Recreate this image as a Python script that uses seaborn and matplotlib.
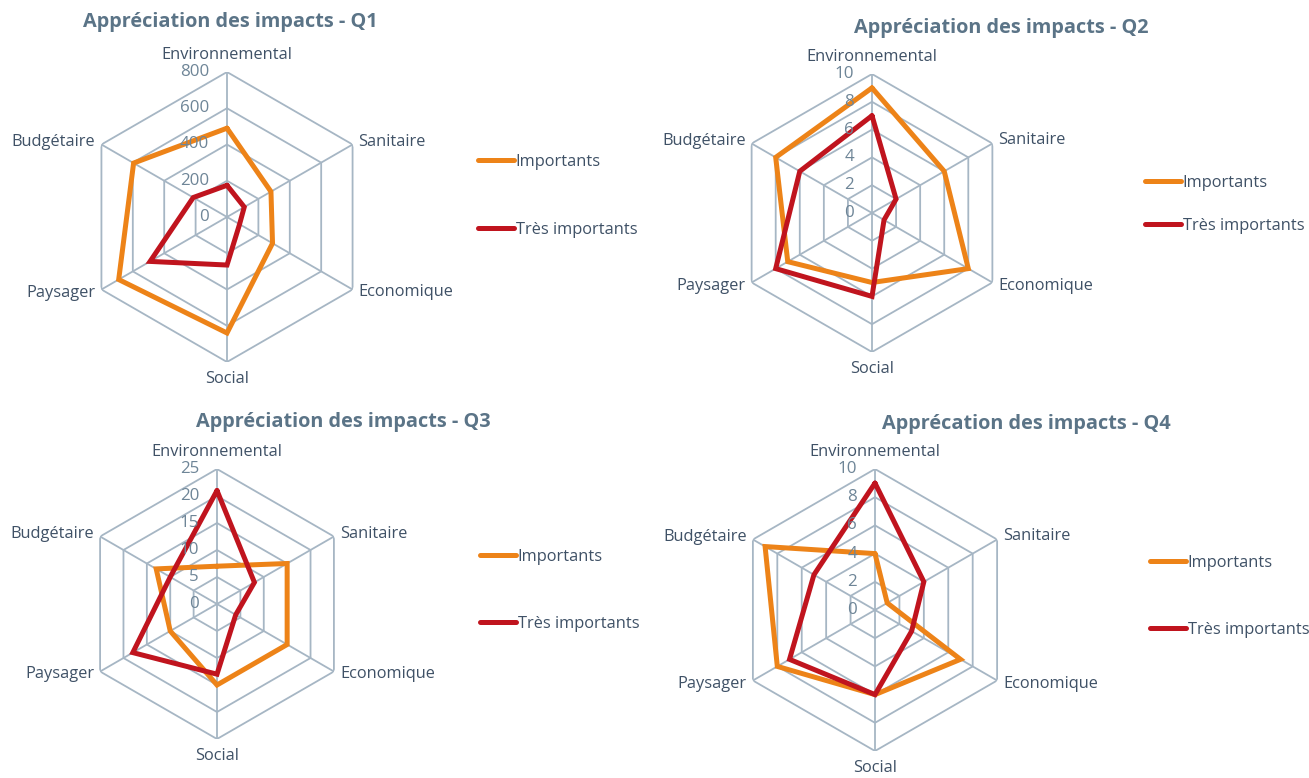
import numpy as np
import pandas as pd
import matplotlib
matplotlib.use('Agg')
import matplotlib.pyplot as plt
import matplotlib.transforms as mtrans
import seaborn as sns

# ---- data ----
categories = ['Environnemental', 'Sanitaire', 'Economique', 'Social', 'Paysager', 'Budgétaire']
series_names = ['Importants', 'Très importants']

q1_importants = [490, 280, 290, 640, 690, 595]
q1_tres = [175, 110, 80, 265, 490, 215]
q2_importants = [9, 6, 8, 5, 7, 8]
q2_tres = [7, 2, 1, 6, 8, 6]
q3_importants = [7, 15, 15, 15, 10, 13]
q3_tres = [21, 8, 4, 13, 18, 10]
q4_importants = [4, 1, 7, 6, 8, 9]
q4_tres = [9, 4, 3, 6, 7, 5]

titles = ['Appréciation des impacts - Q1', 'Appréciation des impacts - Q2',
          'Appréciation des impacts - Q3', 'Apprécation des impacts - Q4']
rticks = [[0, 200, 400, 600, 800], [0, 2, 4, 6, 8, 10],
          [0, 5, 10, 15, 20, 25], [0, 2, 4, 6, 8, 10]]

# ---- style ----
sns.set_style('white')
plt.rcParams['font.family'] = ['Open Sans', 'DejaVu Sans']

ORANGE = '#ED8318'
RED = '#C0141E'
GRID = '#A6B6C4'
TXT = '#3F5166'
TITLE = '#5B7487'
TICK = '#6E8597'
FS = 11.8

W, H = 1309, 778
fig = plt.figure(figsize=(W / 100, H / 100), dpi=100, facecolor='white')

# panel layout in pixels: centre x, centre y, radius, title x, title y, legend x, legend y1, legend y2
panels = [
    (227, 217, 145, 230, 22, 478, 162, 230),
    (872, 213, 139, 1001, 28, 1145, 183, 226),
    (217, 604, 135, 343, 422, 480, 557, 624),
    (875, 610, 141, 1026, 424, 1150, 563, 630),
]
data = [(q1_importants, q1_tres), (q2_importants, q2_tres),
        (q3_importants, q3_tres), (q4_importants, q4_tres)]

angles = np.linspace(0, 2 * np.pi, len(categories), endpoint=False)
angles_closed = np.append(angles, angles[0] + 2 * np.pi)


def make_frame(imp, tres):
    rows = []
    for name, vals in zip(series_names, [imp, tres]):
        closed = list(vals) + [vals[0]]
        for th, v in zip(angles_closed, closed):
            rows.append({'serie': name, 'theta': th, 'valeur': v})
    return pd.DataFrame(rows)


def px(dx, dy):
    return mtrans.ScaledTranslation(dx / 100, dy / 100, fig.dpi_scale_trans)


label_fmt = {
    0: ('center', 'baseline', 0, 13),
    1: ('left', 'center', 6, 3),
    2: ('left', 'center', 6, -3),
    3: ('center', 'top', 0, -9),
    4: ('right', 'center', -6, -3),
    5: ('right', 'center', -6, 3),
}

for k, (cx, cy, r, tx, ty, lx, ly1, ly2) in enumerate(panels):
    ax = fig.add_axes([(cx - r) / W, 1 - (cy + r) / H, 2 * r / W, 2 * r / H],
                      projection='polar')
    ax.set_theta_zero_location('N')
    ax.set_theta_direction(-1)
    ax.grid(False)
    ax.spines['polar'].set_visible(False)
    ax.set_facecolor('none')
    rmax = rticks[k][-1]

    # hexagonal grid
    for lev in rticks[k][1:]:
        ax.plot(angles_closed, [lev] * len(angles_closed), color=GRID, lw=1.3, zorder=1)
    for a in angles:
        ax.plot([a, a], [0, rmax], color=GRID, lw=1.3, zorder=1)

    df = make_frame(*data[k])
    sns.lineplot(data=df, x='theta', y='valeur', hue='serie', sort=False,
                 palette=[ORANGE, RED], linewidth=3.6, ax=ax, zorder=3,
                 solid_joinstyle='miter')
    ax.set_ylim(0, rmax)
    ax.set_xticks([])
    ax.set_yticks([])
    ax.set_xlabel('')
    ax.set_ylabel('')

    # category labels
    for i, (a, cat) in enumerate(zip(angles, categories)):
        ha, va, dx, dy = label_fmt[i]
        ax.text(a, rmax, cat, ha=ha, va=va, fontsize=FS, color=TXT,
                transform=ax.transData + px(dx, dy), clip_on=False)
    # radial tick labels
    for lev in rticks[k]:
        ax.text(0, lev, str(lev), ha='right', va='center', fontsize=12.2, color=TICK,
                transform=ax.transData + px(-18, 0), clip_on=False, zorder=4)

    fs_px = FS * 100 / 72
    sns.move_legend(ax, 'center left',
                    bbox_to_anchor=(lx / W, 1 - (ly1 + ly2) / 2 / H),
                    bbox_transform=fig.transFigure, title=None, frameon=False,
                    borderaxespad=0, borderpad=0, handlelength=2.2,
                    handletextpad=0.1, labelspacing=(ly2 - ly1 - fs_px) / fs_px,
                    fontsize=FS, labelcolor=TXT)

    fig.text(tx / W, 1 - ty / H, titles[k], ha='center', va='center',
             fontsize=14.3, fontweight='bold', color=TITLE)

fig.savefig('out.png', dpi=100, facecolor='white')
